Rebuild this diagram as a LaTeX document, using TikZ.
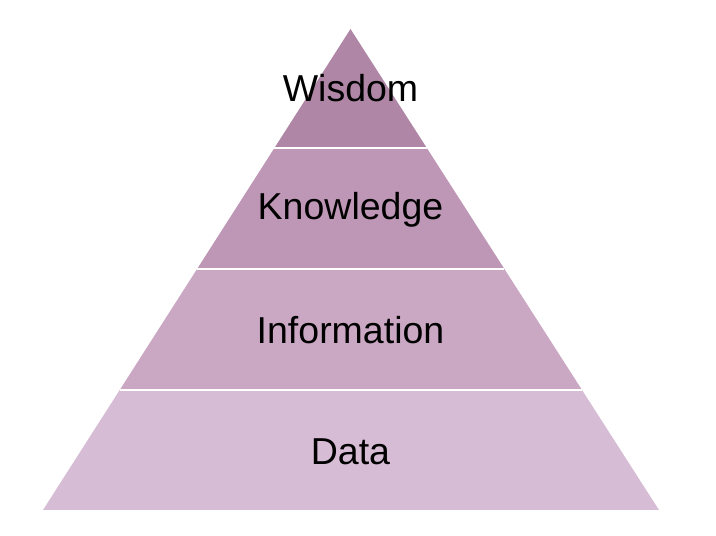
\documentclass[tikz,border=0pt]{standalone}
\usepackage{fontspec}
\setmainfont{Liberation Sans}
\usetikzlibrary{calc}
\definecolor{lay1}{HTML}{AF86A6}
\definecolor{lay2}{HTML}{BE97B6}
\definecolor{lay3}{HTML}{CAA8C4}
\definecolor{lay4}{HTML}{D6BCD4}
\tikzset{
  lbl/.style={font=\fontsize{37.5}{42}\selectfont, text=black, inner sep=0pt, anchor=center},
  sep/.style={draw=white, line width=1.6pt}
}
\begin{document}
\begin{tikzpicture}[x=1pt,y=1pt]
\useasboundingbox (0,0) rectangle (716,536);
\coordinate (A) at (350.5,507);
\coordinate (BL) at (43,26);
\coordinate (BR) at (659,26);
\coordinate (L1) at ($(A)!0.2474!(BL)$);
\coordinate (R1) at ($(A)!0.2474!(BR)$);
\coordinate (L2) at ($(A)!0.499!(BL)$);
\coordinate (R2) at ($(A)!0.499!(BR)$);
\coordinate (L3) at ($(A)!0.7505!(BL)$);
\coordinate (R3) at ($(A)!0.7505!(BR)$);
\fill[lay1] (A) -- (R1) -- (L1) -- cycle;
\fill[lay2] (L1) -- (R1) -- (R2) -- (L2) -- cycle;
\fill[lay3] (L2) -- (R2) -- (R3) -- (L3) -- cycle;
\fill[lay4] (L3) -- (R3) -- (BR) -- (BL) -- cycle;
\draw[sep] (L1) -- (R1);
\draw[sep] (L2) -- (R2);
\draw[sep] (L3) -- (R3);
\node[lbl] (wisdom) at (350.5,448) {Wisdom};
\node[lbl] (knowledge) at (350.5,326) {Knowledge};
\node[lbl] (information) at (350.5,206) {Information};
\node[lbl] (data) at (350.5,84.5) {Data};
\end{tikzpicture}
\end{document}
